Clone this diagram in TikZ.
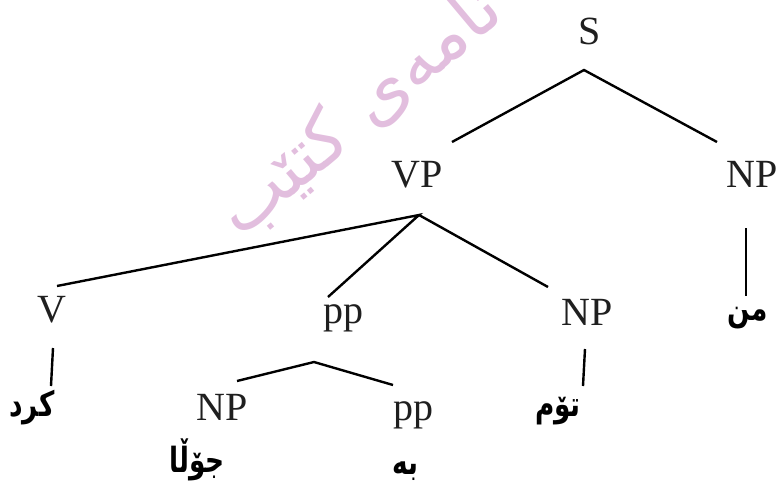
\documentclass[tikz,border=0pt]{standalone}
\usepackage{fontspec}
\setmainfont{Liberation Serif}
\newfontfamily\kurd[Script=Arabic]{DejaVu Sans}
\TeXXeTstate=1
\begin{document}
\begin{tikzpicture}[x=1pt,y=-1pt,
  cat/.style={anchor=base,inner sep=0pt,font=\fontsize{40}{40}\selectfont,text=black!88},
  word/.style={anchor=base,inner sep=0pt,xscale=0.85,yscale=1.12,font=\kurd\bfseries\fontsize{31}{31}\selectfont},
  branch/.style={line width=2.4pt,black}]
\useasboundingbox (0,0) rectangle (780,483);
\clip (0,0) rectangle (780,483);
% watermark
\node[rotate=40,text={rgb,255:red,226;green,190;blue,222},font=\kurd\fontsize{72}{72}\selectfont,inner sep=0pt] (wm) at (360,112) {\beginR نامەی کتێب\endR};
% categories
\node[cat] (S) at (590,44) {S};
\node[cat] (VP) at (417,187) {VP};
\node[cat] (NPr) at (752,187) {NP};
\node[cat] (V) at (52,322) {V};
\node[cat] (pp1) at (343,323) {pp};
\node[cat] (NPm) at (587,325) {NP};
\node[cat] (NPb) at (222,420) {NP};
\node[cat] (pp2) at (413,420) {pp};
% words
\node[word] (min) at (748,320) {\beginR من\endR};
\node[word] (kird) at (32,416) {\beginR کرد\endR};
\node[word] (tom) at (558,416) {\beginR تۆم\endR};
\node[word] (jola) at (197,472) {\beginR جۆڵا\endR};
\node[word] (ba) at (405,474) {\beginR بە\endR};
% branch points
\coordinate (S-a) at (584,70);
\coordinate (VP-t) at (452,142);
\coordinate (NPr-t) at (717,142);
\coordinate (VP-a) at (419,215);
\coordinate (V-t) at (57,286);
\coordinate (pp1-t) at (328,297);
\coordinate (NPm-t) at (548,287);
\coordinate (NPr-b) at (746,228);
\coordinate (min-t) at (746,296);
\coordinate (V-b) at (53,348);
\coordinate (kird-t) at (51,386);
\coordinate (pp1-a) at (314,362);
\coordinate (NPb-t) at (237,381);
\coordinate (pp2-t) at (393,385);
\coordinate (NPm-b) at (585,349);
\coordinate (tom-t) at (583,386);
% branches
\draw[branch] (VP-t) -- (S-a) -- (NPr-t);
\draw[branch] (V-t) -- (VP-a) -- (pp1-t);
\draw[branch] (VP-a) -- (NPm-t);
\draw[branch] (NPr-b) -- (min-t);
\draw[branch] (V-b) -- (kird-t);
\draw[branch] (NPb-t) -- (pp1-a) -- (pp2-t);
\draw[branch] (NPm-b) -- (tom-t);
\end{tikzpicture}
\end{document}
